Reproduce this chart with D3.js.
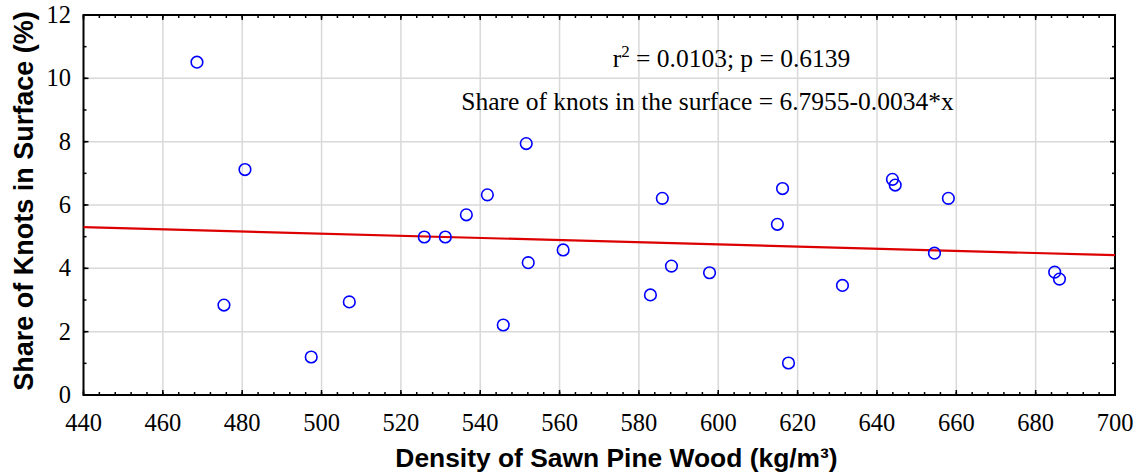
<!DOCTYPE html>
<html>
<head>
<meta charset="utf-8">
<script src="https://d3js.org/d3.v7.min.js"></script>
<style>
  body { margin: 0; background: #fff; }
  svg { display: block; }
  .serif { font-family: "Liberation Serif", "Times New Roman", serif; }
  .sans { font-family: "Liberation Sans", Arial, sans-serif; font-weight: bold; }
</style>
</head>
<body>
<div id="chart"></div>
<script>
// density (kg/m3) and share of knots in surface (%)
const density = [468.6, 475.4, 480.7, 497.4, 507.0, 525.9, 531.2, 536.5, 541.8, 545.8,
  551.6, 552.1, 560.9, 582.9, 585.9, 588.2, 597.8, 614.9, 616.2, 617.7,
  631.3, 643.9, 644.6, 654.5, 658.0, 684.8, 686.0];
const knots = [10.51, 2.84, 7.12, 1.20, 2.94, 4.99, 4.99, 5.69, 6.32, 2.21,
  7.94, 4.18, 4.58, 3.16, 6.21, 4.07, 3.86, 5.39, 6.52, 1.01,
  3.46, 6.81, 6.63, 4.48, 6.21, 3.88, 3.66];
const xTicks = [440, 460, 480, 500, 520, 540, 560, 580, 600, 620, 640, 660, 680, 700];
const yTicks = [0, 2, 4, 6, 8, 10, 12];
const fitA = 6.7955, fitB = -0.0034;

const width = 1139, height = 476;
const plotL = 83.5, plotR = 1115, plotT = 15, plotB = 395;
const serifFont = "'Liberation Serif', 'Times New Roman', serif";

const svg = d3.select("#chart").append("svg")
  .attr("width", width).attr("height", height);

const x = d3.scaleLinear().domain([440, 700]).range([plotL, plotR]);
const y = d3.scaleLinear().domain([0, 12]).range([plotB, plotT]);

// grid
svg.append("g").selectAll("line").data(xTicks.slice(1, -1)).enter().append("line")
  .attr("x1", d => x(d)).attr("x2", d => x(d)).attr("y1", plotT).attr("y2", plotB)
  .attr("stroke", "#d9d9d9").attr("stroke-width", 1.5);
svg.append("g").selectAll("line").data(yTicks.slice(1, -1)).enter().append("line")
  .attr("y1", d => y(d)).attr("y2", d => y(d)).attr("x1", plotL).attr("x2", plotR)
  .attr("stroke", "#d9d9d9").attr("stroke-width", 1.5);

// ticks, inside on all four sides
const xMinor = d3.range(440, 701, 4);
const yMinor = d3.range(0, 12.01, 1);
function tickGroup(vals, len, horiz) {
  const g = svg.append("g").attr("stroke", "#000").attr("stroke-width", 1.5);
  vals.forEach(v => {
    if (horiz) {
      g.append("line").attr("x1", x(v)).attr("x2", x(v)).attr("y1", plotB).attr("y2", plotB - len);
      g.append("line").attr("x1", x(v)).attr("x2", x(v)).attr("y1", plotT).attr("y2", plotT + len);
    } else {
      g.append("line").attr("y1", y(v)).attr("y2", y(v)).attr("x1", plotL).attr("x2", plotL + len);
      g.append("line").attr("y1", y(v)).attr("y2", y(v)).attr("x1", plotR).attr("x2", plotR - len);
    }
  });
}
tickGroup(xMinor, 3, true);
tickGroup(xTicks, 5, true);
tickGroup(yMinor, 3, false);
tickGroup(yTicks, 5, false);

// frame
svg.append("rect").attr("x", plotL).attr("y", plotT)
  .attr("width", plotR - plotL).attr("height", plotB - plotT)
  .attr("fill", "none").attr("stroke", "#000").attr("stroke-width", 2);

// tick labels
svg.append("g").selectAll("text").data(xTicks).enter().append("text")
  .style("font-family", serifFont).style("font-size", "24.5px")
  .attr("x", d => x(d)).attr("y", 431)
  .attr("text-anchor", "middle")
  .text(d => String(d));
svg.append("g").selectAll("text").data(yTicks).enter().append("text")
  .style("font-family", serifFont).style("font-size", "24.5px")
  .attr("x", 71).attr("y", d => y(d) + 8)
  .attr("text-anchor", "end")
  .text(d => String(d));

// regression line
svg.append("line")
  .attr("x1", x(440)).attr("y1", y(fitA + fitB * 440))
  .attr("x2", x(700)).attr("y2", y(fitA + fitB * 700))
  .attr("stroke", "#dd0000").attr("stroke-width", 2.2);

// points
svg.append("g").selectAll("circle").data(density).enter().append("circle")
  .attr("cx", d => x(d)).attr("cy", (d, i) => y(knots[i]))
  .attr("r", 5.8).attr("fill", "none")
  .attr("stroke", "#0000ff").attr("stroke-width", 1.6);

// annotations
const r2 = svg.append("text").attr("class", "serif")
  .attr("x", 731.5).attr("y", 67).attr("text-anchor", "middle")
  .attr("font-size", 25.5);
r2.append("tspan").text("r");
r2.append("tspan").attr("dy", -10).attr("font-size", 17).text("2");
r2.append("tspan").attr("dy", 10).text(" = 0.0103; p = 0.6139");

svg.append("text").attr("class", "serif")
  .attr("x", 707.5).attr("y", 110).attr("text-anchor", "middle")
  .attr("font-size", 25.5)
  .text("Share of knots in the surface = 6.7955-0.0034*x");

// axis titles
svg.append("text").attr("class", "sans")
  .attr("x", 616.5).attr("y", 467)
  .attr("text-anchor", "middle").attr("font-size", 26.4)
  .text("Density of Sawn Pine Wood (kg/m³)");
svg.append("text").attr("class", "sans")
  .attr("transform", "translate(33,201) rotate(-90)")
  .attr("text-anchor", "middle").attr("font-size", 27)
  .text("Share of Knots in Surface (%)");
</script>
</body>
</html>
